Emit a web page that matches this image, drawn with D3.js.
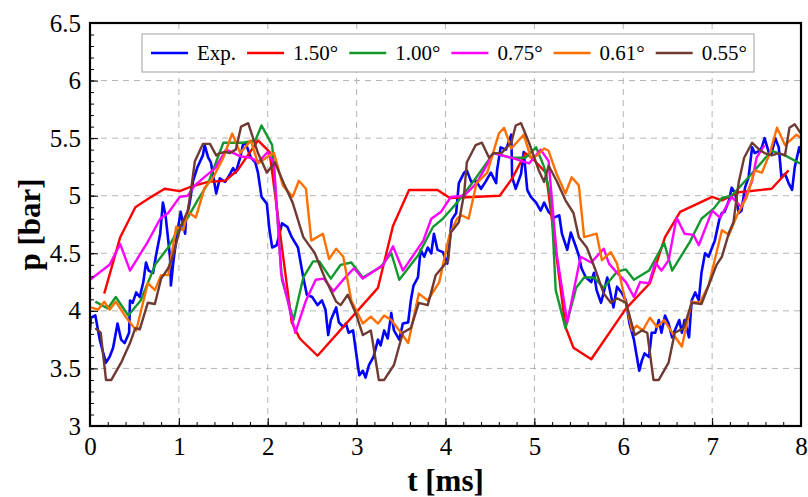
<!DOCTYPE html>
<html>
<head>
<meta charset="utf-8">
<script src="https://cdn.jsdelivr.net/npm/d3@7"></script>
<style>
  body { margin: 0; background: #fff; }
  svg { display: block; font-family: "Liberation Serif", "Times New Roman", serif; }
</style>
</head>
<body>
<svg id="chart" width="808" height="497"></svg>
<script>
// tick values
let xTicks = [0, 1, 2, 3, 4, 5, 6, 7, 8];
let yTicks = [3, 3.5, 4, 4.5, 5, 5.5, 6, 6.5];
let xGrid = [1, 2, 3, 4, 5, 6, 7];
let yGrid = [3.5, 4, 4.5, 5, 5.5, 6];

let legendLabels = ["Exp.", "1.50°", "1.00°", "0.75°", "0.61°", "0.55°"];
let colors = ["#0000ff", "#ff0000", "#13982d", "#ff00ff", "#ff7000", "#6e3a32"];

// [t (ms), p (bar)]
let expData = [[0,3.83],[0.01,3.94],[0.06,3.96],[0.11,3.75],[0.15,3.63],[0.18,3.55],[0.22,3.60],[0.26,3.68],[0.31,3.89],[0.35,3.75],[0.39,3.72],[0.44,3.81],[0.45,4.09],[0.48,4.07],[0.52,4.16],[0.56,4.12],[0.60,4.25],[0.63,4.42],[0.66,4.35],[0.71,4.33],[0.74,4.47],[0.79,4.67],[0.82,4.94],[0.85,4.83],[0.90,4.47],[0.91,4.22],[0.94,4.44],[0.98,4.67],[1.02,4.86],[1.07,4.67],[1.08,4.79],[1.12,4.93],[1.16,5.13],[1.21,5.25],[1.27,5.35],[1.29,5.44],[1.33,5.33],[1.36,5.29],[1.42,5.02],[1.46,5.15],[1.52,5.12],[1.57,5.18],[1.61,5.24],[1.64,5.20],[1.69,5.33],[1.72,5.44],[1.75,5.46],[1.81,5.33],[1.86,5.29],[1.89,5.20],[1.93,4.99],[1.99,4.93],[2.02,4.70],[2.05,4.55],[2.10,4.57],[2.16,4.76],[2.22,4.73],[2.27,4.64],[2.34,4.55],[2.40,4.29],[2.44,4.14],[2.50,4.12],[2.56,4.05],[2.61,4.09],[2.65,4.01],[2.68,3.79],[2.71,3.92],[2.77,4.03],[2.80,3.90],[2.85,3.86],[2.88,3.89],[2.91,3.81],[2.96,3.83],[2.99,3.66],[3.03,3.44],[3.07,3.48],[3.10,3.42],[3.14,3.53],[3.19,3.60],[3.24,3.75],[3.27,3.70],[3.31,3.83],[3.35,3.76],[3.39,3.98],[3.42,3.83],[3.48,3.75],[3.52,3.89],[3.58,3.90],[3.61,4.09],[3.64,4.22],[3.69,4.29],[3.72,4.53],[3.76,4.47],[3.80,4.55],[3.84,4.50],[3.87,4.67],[3.91,4.53],[3.97,4.51],[4.02,4.41],[4.07,4.79],[4.12,4.85],[4.15,5.11],[4.21,5.20],[4.24,5.22],[4.29,5.12],[4.34,5.13],[4.40,5.06],[4.45,5.12],[4.51,5.20],[4.57,5.11],[4.58,5.22],[4.62,5.42],[4.68,5.40],[4.74,5.53],[4.75,5.16],[4.79,5.06],[4.85,5.19],[4.88,5.38],[4.92,5.05],[4.96,4.99],[5.02,4.94],[5.07,4.87],[5.11,4.94],[5.16,4.86],[5.22,4.81],[5.28,4.83],[5.31,4.67],[5.37,4.53],[5.41,4.68],[5.47,4.55],[5.50,4.48],[5.53,4.37],[5.58,4.29],[5.64,4.25],[5.67,4.33],[5.70,4.18],[5.75,4.07],[5.78,4.16],[5.82,4.29],[5.86,4.14],[5.89,4.03],[5.93,4.21],[5.98,4.16],[6.03,4.09],[6.07,3.89],[6.12,3.75],[6.18,3.48],[6.21,3.57],[6.24,3.63],[6.29,3.60],[6.32,3.81],[6.36,3.81],[6.40,3.92],[6.43,3.81],[6.47,3.96],[6.51,3.89],[6.55,3.77],[6.58,3.83],[6.63,3.92],[6.66,3.81],[6.69,3.92],[6.74,3.77],[6.77,4.09],[6.81,4.16],[6.85,4.09],[6.88,4.33],[6.92,4.50],[6.96,4.47],[7.00,4.55],[7.03,4.61],[7.08,4.79],[7.11,4.85],[7.14,4.86],[7.19,4.96],[7.22,5.07],[7.26,5.02],[7.30,4.85],[7.33,4.87],[7.37,5.07],[7.41,5.16],[7.45,5.42],[7.48,5.37],[7.53,5.39],[7.56,5.42],[7.59,5.50],[7.64,5.37],[7.67,5.37],[7.71,5.50],[7.75,5.42],[7.78,5.16],[7.82,5.19],[7.86,5.11],[7.90,5.05],[7.93,5.25],[7.98,5.42],[8.00,5.37]];

let a150Data = [[0.16,4.15],[0.34,4.64],[0.51,4.90],[0.69,4.99],[0.84,5.06],[1.01,5.04],[1.14,5.08],[1.33,5.12],[1.52,5.13],[1.66,5.22],[1.89,5.48],[2.02,5.38],[2.27,3.90],[2.36,3.76],[2.56,3.61],[3.24,4.20],[3.41,4.74],[3.59,5.05],[3.91,5.05],[4.05,4.98],[4.61,5.00],[4.75,5.15],[4.90,5.37],[4.97,5.33],[5.13,5.20],[5.35,3.86],[5.44,3.68],[5.64,3.58],[6.03,4.02],[6.30,4.24],[6.47,4.64],[6.64,4.86],[7.00,4.99],[7.11,4.96],[7.30,5.03],[7.67,5.06],[7.86,5.22]];

let a100Data = [[0.06,4.08],[0.20,4.02],[0.29,4.12],[0.43,3.96],[0.57,4.09],[0.74,4.41],[0.88,4.55],[1.01,4.73],[1.10,4.81],[1.21,4.96],[1.33,5.11],[1.50,5.46],[1.72,5.46],[1.86,5.48],[1.93,5.61],[2.05,5.44],[2.16,4.27],[2.29,3.92],[2.40,4.29],[2.51,4.43],[2.58,4.43],[2.71,4.28],[2.82,4.40],[2.94,4.42],[3.07,4.29],[3.27,4.38],[3.39,4.50],[3.48,4.27],[3.69,4.48],[3.86,4.73],[3.97,4.80],[4.13,4.94],[4.32,5.13],[4.54,5.37],[4.74,5.33],[4.90,5.33],[5.02,5.42],[5.11,5.25],[5.19,4.96],[5.24,4.18],[5.35,3.85],[5.47,4.20],[5.56,4.29],[5.67,4.29],[5.78,4.20],[5.93,4.34],[6.03,4.36],[6.12,4.27],[6.29,4.35],[6.46,4.59],[6.55,4.35],[6.75,4.60],[6.88,4.80],[7.02,4.89],[7.11,4.98],[7.22,5.00],[7.41,5.16],[7.67,5.39],[7.82,5.35],[7.99,5.28]];

let a075Data = [[0,4.27],[0.22,4.40],[0.34,4.58],[0.45,4.35],[0.65,4.60],[0.79,4.80],[0.88,4.85],[1.01,4.99],[1.10,5.00],[1.18,5.09],[1.30,5.17],[1.41,5.24],[1.53,5.40],[1.70,5.34],[1.81,5.33],[1.89,5.29],[2.00,5.38],[2.07,5.28],[2.15,4.33],[2.31,3.81],[2.43,4.09],[2.54,4.27],[2.63,4.28],[2.74,4.17],[2.86,4.28],[2.97,4.37],[3.07,4.28],[3.30,4.40],[3.41,4.56],[3.52,4.35],[3.75,4.61],[3.84,4.80],[3.95,4.86],[4.06,4.99],[4.21,5.00],[4.35,5.11],[4.54,5.37],[4.74,5.33],[4.94,5.28],[5.07,5.40],[5.16,5.30],[5.25,4.50],[5.37,3.90],[5.52,4.47],[5.64,4.42],[5.78,4.54],[5.84,4.41],[5.93,4.33],[6.03,4.25],[6.12,4.12],[6.19,4.25],[6.29,4.24],[6.36,4.42],[6.43,4.35],[6.51,4.44],[6.60,4.81],[6.69,4.67],[6.79,4.66],[6.85,4.57],[7.00,4.87],[7.09,4.81],[7.22,4.99],[7.33,4.90],[7.45,5.13],[7.50,5.33],[7.59,5.44]];

let a061Data = [[0.01,4.03],[0.09,4.01],[0.16,4.08],[0.22,4.01],[0.29,4.08],[0.40,3.95],[0.52,3.83],[0.65,4.24],[0.73,4.18],[0.80,4.31],[0.88,4.31],[0.97,4.73],[1.05,4.70],[1.10,4.86],[1.19,4.81],[1.29,5.07],[1.38,5.15],[1.50,5.33],[1.60,5.54],[1.69,5.37],[1.81,5.48],[1.89,5.28],[2.02,5.35],[2.07,5.37],[2.17,5.09],[2.28,4.99],[2.35,5.13],[2.43,5.06],[2.49,4.61],[2.62,4.67],[2.69,4.45],[2.77,4.54],[2.85,4.47],[2.94,4.09],[3.07,3.89],[3.16,3.95],[3.24,3.89],[3.31,3.96],[3.39,3.92],[3.50,3.81],[3.58,3.72],[3.70,4.15],[3.80,4.09],[3.93,4.25],[4.03,4.61],[4.05,4.67],[4.13,4.80],[4.18,4.83],[4.26,4.80],[4.35,5.11],[4.47,5.20],[4.60,5.54],[4.66,5.59],[4.74,5.41],[4.88,5.53],[4.96,5.33],[5.03,5.35],[5.11,5.41],[5.16,5.39],[5.25,5.19],[5.35,5.02],[5.42,5.16],[5.50,5.09],[5.56,4.64],[5.70,4.67],[5.76,4.44],[5.86,4.51],[5.93,4.41],[6.10,3.83],[6.15,3.87],[6.22,3.83],[6.30,3.94],[6.38,3.86],[6.46,3.92],[6.55,3.81],[6.66,3.69],[6.77,4.08],[6.86,4.07],[6.96,4.22],[7.11,4.70],[7.19,4.66],[7.28,4.83],[7.39,4.99],[7.48,5.22],[7.56,5.20],[7.65,5.37],[7.73,5.59],[7.82,5.44],[7.95,5.53],[8.00,5.50]];

let a055Data = [[0.06,3.85],[0.12,3.81],[0.18,3.40],[0.24,3.40],[0.35,3.55],[0.45,3.72],[0.51,3.85],[0.56,3.84],[0.65,4.07],[0.73,4.06],[0.80,4.28],[0.88,4.37],[0.93,4.47],[1.02,4.73],[1.10,4.87],[1.14,5.07],[1.18,5.30],[1.27,5.45],[1.35,5.45],[1.42,5.35],[1.46,5.37],[1.52,5.38],[1.57,5.37],[1.64,5.40],[1.70,5.60],[1.78,5.63],[1.89,5.37],[1.99,5.20],[2.08,5.29],[2.19,5.09],[2.28,4.94],[2.40,4.64],[2.53,4.50],[2.64,4.29],[2.77,4.08],[2.82,4.05],[2.90,4.14],[2.99,3.98],[3.07,3.79],[3.16,3.83],[3.25,3.40],[3.31,3.40],[3.42,3.53],[3.52,3.81],[3.61,3.85],[3.70,4.07],[3.80,4.05],[3.89,4.31],[4.03,4.44],[4.06,4.68],[4.15,4.77],[4.21,5.02],[4.24,5.29],[4.34,5.44],[4.41,5.46],[4.49,5.33],[4.54,5.37],[4.63,5.37],[4.74,5.46],[4.79,5.61],[4.85,5.63],[4.94,5.46],[5.05,5.22],[5.11,5.12],[5.16,5.26],[5.25,5.13],[5.35,4.96],[5.44,4.85],[5.50,4.64],[5.59,4.55],[5.69,4.35],[5.78,4.15],[5.86,4.07],[5.93,4.11],[6.03,4.07],[6.06,3.99],[6.13,3.79],[6.21,3.83],[6.27,3.81],[6.34,3.40],[6.40,3.40],[6.51,3.55],[6.58,3.81],[6.68,3.85],[6.77,4.07],[6.88,4.06],[6.97,4.24],[7.05,4.40],[7.11,4.47],[7.19,4.68],[7.24,4.77],[7.30,5.12],[7.36,5.33],[7.45,5.46],[7.53,5.40],[7.59,5.37],[7.67,5.35],[7.75,5.37],[7.82,5.35],[7.87,5.59],[7.93,5.62],[8.00,5.54]];

let seriesList = [expData, a150Data, a100Data, a075Data, a061Data, a055Data];

let plotLeft = 90, plotRight = 801, plotTop = 23, plotBottom = 426;

let svg = d3.select("#chart");

let xScale = d3.scaleLinear().domain([0, 8]).range([plotLeft, plotRight]);
let yScale = d3.scaleLinear().domain([3, 6.5]).range([plotBottom, plotTop]);

// dashed grid
svg.append("g")
    .selectAll("line")
    .data(xGrid)
    .enter()
    .append("line")
    .attr("x1", d => xScale(d)).attr("x2", d => xScale(d))
    .attr("y1", plotTop).attr("y2", plotBottom)
    .attr("stroke", "#b4b4b4")
    .attr("stroke-dasharray", "6,5");

svg.append("g")
    .selectAll("line")
    .data(yGrid)
    .enter()
    .append("line")
    .attr("x1", plotLeft).attr("x2", plotRight)
    .attr("y1", d => yScale(d)).attr("y2", d => yScale(d))
    .attr("stroke", "#b4b4b4")
    .attr("stroke-dasharray", "6,5");

// curves
svg.append("clipPath").attr("id", "clip")
    .append("rect")
    .attr("x", plotLeft).attr("y", plotTop)
    .attr("width", plotRight - plotLeft).attr("height", plotBottom - plotTop);

let line = d3.line()
    .x(d => xScale(d[0]))
    .y(d => yScale(d[1]));

svg.append("g")
    .attr("clip-path", "url(#clip)")
    .selectAll("path")
    .data(seriesList)
    .enter()
    .append("path")
    .attr("d", d => line(d))
    .attr("fill", "none")
    .attr("stroke", (d, i) => colors[i])
    .attr("stroke-width", (d, i) => i == 0 ? 2.6 : 2.4)
    .attr("stroke-linejoin", "round");

// axes, ticks pointing inwards
let xMinor = d3.range(0, 8.01, 0.2).map(v => +v.toFixed(1));
let yMinor = d3.range(3, 6.51, 0.1).map(v => +v.toFixed(1));

svg.append("g")
    .attr("transform", "translate(0," + plotBottom + ")")
    .call(d3.axisBottom(xScale).tickValues(xMinor).tickSize(-4).tickFormat(""))
    .call(g => g.select(".domain").remove());

svg.append("g")
    .attr("transform", "translate(" + plotLeft + ",0)")
    .call(d3.axisLeft(yScale).tickValues(yMinor).tickSize(-4).tickFormat(""))
    .call(g => g.select(".domain").remove());

let xAxis = svg.append("g")
    .attr("transform", "translate(0," + plotBottom + ")")
    .call(d3.axisBottom(xScale).tickValues(xTicks).tickSize(-8).tickPadding(11).tickFormat(d3.format("d")));
xAxis.select(".domain").remove();

let yAxis = svg.append("g")
    .attr("transform", "translate(" + plotLeft + ",0)")
    .call(d3.axisLeft(yScale).tickValues(yTicks).tickSize(-8).tickPadding(9).tickFormat(d => d));
yAxis.select(".domain").remove();

svg.selectAll(".tick text")
    .attr("font-family", "Liberation Serif, Times New Roman, serif")
    .attr("font-size", 25)
    .attr("fill", "#000");
svg.selectAll(".tick line").attr("stroke", "#000");

// frame
svg.append("rect")
    .attr("x", plotLeft).attr("y", plotTop)
    .attr("width", plotRight - plotLeft).attr("height", plotBottom - plotTop)
    .attr("fill", "none")
    .attr("stroke", "#000")
    .attr("stroke-width", 2.2);

// axis titles
svg.append("text")
    .attr("x", (plotLeft + plotRight) / 2)
    .attr("y", 491)
    .attr("text-anchor", "middle")
    .attr("font-size", 31)
    .attr("font-weight", "bold")
    .text("t [ms]");

svg.append("text")
    .attr("transform", "translate(40," + ((plotTop + plotBottom) / 2) + ") rotate(-90)")
    .attr("text-anchor", "middle")
    .attr("font-size", 31)
    .attr("font-weight", "bold")
    .text("p [bar]");

// legend
let legend = svg.append("g");
legend.append("rect")
    .attr("x", 142).attr("y", 34)
    .attr("width", 612).attr("height", 38)
    .attr("fill", "#fff")
    .attr("stroke", "#a0a0a0")
    .attr("stroke-width", 1);

let lx = 151;
legendLabels.forEach((lab, i) => {
    legend.append("line")
        .attr("x1", lx).attr("x2", lx + 37)
        .attr("y1", 53).attr("y2", 53)
        .attr("stroke", colors[i])
        .attr("stroke-width", 2.6);
    let t = legend.append("text")
        .attr("x", lx + 46)
        .attr("y", 53)
        .attr("dy", "0.34em")
        .attr("font-size", 21)
        .text(lab);
    lx += 46 + t.node().getComputedTextLength() + 11;
});
</script>
</body>
</html>
